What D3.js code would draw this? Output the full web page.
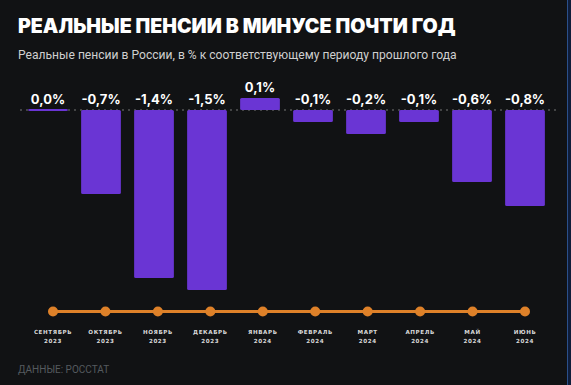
<!DOCTYPE html>
<meta charset="utf-8">
<style>
    body { margin: 0; background: #111214; }
    svg { display: block; }
</style>
<body>
<script src="https://d3js.org/d3.v7.min.js"></script>
<script>
    var months = ["СЕНТЯБРЬ", "ОКТЯБРЬ", "НОЯБРЬ", "ДЕКАБРЬ", "ЯНВАРЬ", "ФЕВРАЛЬ", "МАРТ", "АПРЕЛЬ", "МАЙ", "ИЮНЬ"];
    var years = ["2023", "2023", "2023", "2023", "2024", "2024", "2024", "2024", "2024", "2024"];
    var values = [0.0, -0.7, -1.4, -1.5, 0.1, -0.1, -0.2, -0.1, -0.6, -0.8];

    var width = 571,
        height = 385;

    var svg = d3.select("body").append("svg")
        .attr("width", width)
        .attr("height", height);

    svg.append("rect").attr("width", width).attr("height", height).attr("fill", "#111214");
    // blue edge on the right
    svg.append("rect").attr("x", 567).attr("width", 4).attr("height", height).attr("fill", "#0f1d3a");
    svg.append("line").attr("x1", 567.5).attr("x2", 567.5).attr("y1", 0).attr("y2", height)
        .attr("stroke", "#2b4f8a").attr("stroke-width", 1);

    svg.append("text")
        .attr("x", 18).attr("y", 33)
        .attr("font-family", "Inter, sans-serif")
        .attr("font-weight", 900)
        .attr("font-size", 19.6)
        .attr("fill", "#fff")
        .text("РЕАЛЬНЫЕ ПЕНСИИ В МИНУСЕ ПОЧТИ ГОД");

    svg.append("text")
        .attr("x", 18).attr("y", 59)
        .attr("font-family", "Roboto, sans-serif")
        .attr("font-size", 12.1)
        .attr("fill", "#cfcfcf")
        .text("Реальные пенсии в России, в % к соответствующему периоду прошлого года");

    var x = d3.scaleBand()
        .domain(d3.range(values.length))
        .range([21.5, 551.5])
        .paddingInner(0.25)
        .paddingOuter(0.125);

    var y = d3.scaleLinear()
        .domain([-1.5, 0.1])
        .range([290, 98]);

    var xDot = d3.scalePoint()
        .domain(d3.range(values.length))
        .range([53, 525]);

    // zero line
    svg.append("line")
        .attr("x1", 20).attr("x2", 557)
        .attr("y1", y(0)).attr("y2", y(0))
        .attr("stroke", "#777")
        .attr("stroke-width", 1)
        .attr("stroke-dasharray", "2,4");

    svg.append("g")
        .selectAll("rect")
        .data(values)
        .enter().append("rect")
        .attr("x", function(d, i) { return x(i); })
        .attr("y", function(d) { return d === 0 ? y(0) - 1 : Math.min(y(d), y(0)); })
        .attr("width", x.bandwidth())
        .attr("height", function(d) { return d === 0 ? 2 : Math.abs(y(d) - y(0)); })
        .attr("rx", 1.5)
        .attr("fill", "#6a35d4");

    svg.append("g")
        .selectAll("text")
        .data(values)
        .enter().append("text")
        .attr("x", function(d, i) { return x(i) + x.bandwidth() / 2; })
        .attr("y", function(d) { return Math.min(y(d), y(0)) - 6; })
        .attr("text-anchor", "middle")
        .attr("font-family", "Inter, sans-serif")
        .attr("font-weight", 700)
        .attr("font-size", 13)
        .attr("fill", "#fff")
        .text(function(d) { return d3.format(".1f")(d).replace("−", "-").replace(".", ",") + "%"; });

    // timeline
    svg.append("line")
        .attr("x1", xDot(0)).attr("x2", xDot(values.length - 1))
        .attr("y1", 311.5).attr("y2", 311.5)
        .attr("stroke", "#de8129")
        .attr("stroke-width", 3);

    svg.append("g")
        .selectAll("circle")
        .data(values)
        .enter().append("circle")
        .attr("cx", function(d, i) { return xDot(i); })
        .attr("cy", 311.5)
        .attr("r", 5)
        .attr("fill", "#de8129");

    var lbl = svg.append("g")
        .attr("font-family", "DejaVu Sans, sans-serif")
        .attr("font-weight", 700)
        .attr("font-size", 5.6)
        .attr("letter-spacing", 0.6)
        .attr("fill", "#d8d8d8")
        .attr("text-anchor", "middle");

    lbl.selectAll("text.m")
        .data(months)
        .enter().append("text")
        .attr("class", "m")
        .attr("x", function(d, i) { return xDot(i); })
        .attr("y", 334)
        .text(function(d) { return d; });

    lbl.selectAll("text.yr")
        .data(years)
        .enter().append("text")
        .attr("class", "yr")
        .attr("x", function(d, i) { return xDot(i); })
        .attr("y", 343)
        .text(function(d) { return d; });

    svg.append("text")
        .attr("x", 18).attr("y", 373)
        .attr("font-family", "Roboto, sans-serif")
        .attr("font-size", 10)
        .attr("fill", "#555a5f")
        .text("ДАННЫЕ: РОССТАТ");
</script>
</body>
